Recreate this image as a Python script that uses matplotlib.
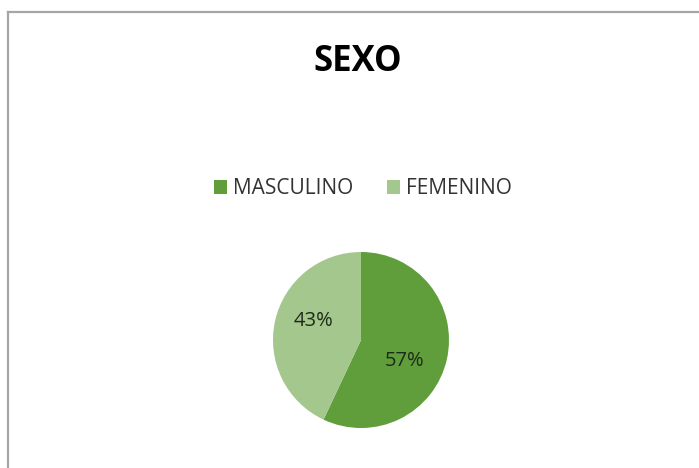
"""
Pie chart: SEXO (masculino / femenino).
"""

import matplotlib
matplotlib.use("Agg")
import matplotlib.pyplot as plt
from matplotlib.lines import Line2D

categories = ["MASCULINO", "FEMENINO"]
shares = [57, 43]
colors = ["#5f9e3b", "#a4c78d"]
title = "SEXO"

W, H = 699, 468

plt.rcParams["font.family"] = ["Open Sans", "DejaVu Sans"]

fig = plt.figure(figsize=(W / 100, H / 100), dpi=100)
fig.patch.set_facecolor("white")

# gray chart frame (left and top edges visible only)
frame_color = "#a6a6a6"
fig.add_artist(Line2D([8 / W, 8 / W], [0, 1 - 12 / H], transform=fig.transFigure,
                      color=frame_color, lw=1.6))
fig.add_artist(Line2D([8 / W, 1], [1 - 12 / H, 1 - 12 / H], transform=fig.transFigure,
                      color=frame_color, lw=1.6))

fig.text(358 / W, 1 - 62 / H, title, ha="center", va="center",
         fontsize=25, fontweight="bold", color="#000000")

# pie axes, centre (361, 340) px, radius 88 px
cx, cy, r = 361, 340, 88
ax = fig.add_axes([(cx - r) / W, 1 - (cy + r) / H, 2 * r / W, 2 * r / H])
wedges, _, autotexts = ax.pie(shares, colors=colors, startangle=90, counterclock=False,
                              autopct=lambda p: f"{p:.0f}%", pctdistance=0.66,
                              wedgeprops=dict(linewidth=0),
                              textprops=dict(fontsize=14.5, color="#1e2b1a"))
ax.set_xlim(-1, 1)
ax.set_ylim(-1, 1)
ax.set_aspect("equal")
ax.axis("off")

# nudge labels toward where the reference puts them
autotexts[0].set_position((0.5, -0.24))
autotexts[1].set_position((-0.545, 0.216))

fig.legend(wedges, categories, loc="center", bbox_to_anchor=(363 / W, 1 - 189 / H),
           ncol=2, frameon=False, fontsize=15, handlelength=0.62, handleheight=0.62,
           handletextpad=0.3, columnspacing=1.6, labelcolor="#333333")

fig.savefig("out.png", dpi=100, facecolor="white")
